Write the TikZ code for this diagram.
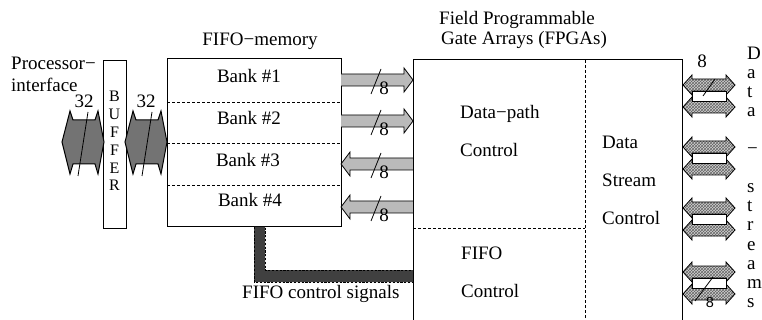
\documentclass[tikz,border=0pt]{standalone}
\usepackage{fontspec}
\setmainfont{Liberation Serif}
\newfontfamily\labelsans{Liberation Sans}
\usetikzlibrary{patterns}

% block arrow pointing right / left between the memory and the FPGA (centre y)
\newcommand\fatR[1]{\filldraw[busarrow] (341,#1-6) -- (404,#1-6) -- (404,#1-12) -- (413,#1) -- (404,#1+12) -- (404,#1+6) -- (341,#1+6);}
\newcommand\fatL[1]{\filldraw[busarrow] (413,#1-6) -- (350,#1-6) -- (350,#1-12) -- (341,#1) -- (350,#1+12) -- (350,#1+6) -- (413,#1+6);}
% bus width mark: slash plus "8"
\newcommand\widthmark[1]{\draw[line width=0.8pt] (371,#1+14) -- (381,#1-11);
  \node[txt, anchor=base] at (384,#1+15) {8};}
% one hatched double arrow of a data stream
\newcommand\hatchpair[1]{\filldraw[hatched] (683,#1) -- (692,#1-10) -- (692,#1-6) -- (726,#1-6) -- (726,#1-10) -- (735,#1) -- (726,#1+10) -- (726,#1+6) -- (692,#1+6) -- (692,#1+10) -- cycle;}
% a data stream port: two hatched arrows with a white bar between them
\newcommand\streamport[1]{\hatchpair{#1-11}\hatchpair{#1+11}
  \filldraw[fill=white, line width=0.8pt] (692,#1-5) rectangle (726,#1+5);}

\begin{document}
\begin{tikzpicture}[x=1pt, y=-1pt,
  txt/.style={font=\fontsize{19}{21}\selectfont, inner sep=0pt},
  vtxt/.style={font=\fontsize{16}{18}\selectfont, inner sep=0pt},
  box/.style={draw, line width=1pt},
  sep/.style={line width=0.9pt, dash pattern=on 3pt off 2pt},
  busarrow/.style={draw, line width=0.8pt, fill=black!27},
  hatched/.style={draw, line width=0.8pt, preaction={fill=black!18},
    pattern=crosshatch, pattern color=black!60},
  hexbus/.style={draw, line width=1pt, fill=black!55, line join=miter},
  ctrlpath/.style={fill=black!75, draw, line width=0.9pt, dash pattern=on 2.2pt off 1.6pt}]

\useasboundingbox (0,0) rectangle (762,320);
\clip (0,0) rectangle (762,320);

% ---------- processor interface and buffer ----------
\node[txt, anchor=base west] (procA) at (11,70) {Processor−};
\node[txt, anchor=base west] (procB) at (11,91.5) {interface};

\node[box, minimum width=23pt, minimum height=168pt, anchor=north west, inner sep=0pt] (buffer) at (103,60) {};
\foreach \ch [count=\i from 0] in {B,U,F,F,E,R}
  \node[vtxt, anchor=base] (buf\i) at (114.5,102+17.8*\i) {\ch};

% 32-bit double arrows on both sides of the buffer
\filldraw[hexbus] (62,142) -- (70,111) -- (73,120) -- (95,120) -- (98,111) -- (104,142)
  -- (98,174) -- (95,164) -- (73,164) -- (70,174) -- cycle;
\filldraw[hexbus] (125,142) -- (133,111) -- (136,120) -- (158,120) -- (161,111) -- (167,142)
  -- (161,174) -- (158,164) -- (136,164) -- (133,174) -- cycle;
\draw[line width=0.8pt] (78,176) -- (88,112);
\draw[line width=0.8pt] (142,176) -- (152,112);
\node[txt, anchor=base] (w32a) at (84,108) {32};
\node[txt, anchor=base] (w32b) at (146,108) {32};

% ---------- FIFO memory ----------
\node[txt, anchor=base] (fifotitle) at (260,46) {FIFO−memory};
\node[box, minimum width=174pt, minimum height=168pt, anchor=north west, inner sep=0pt] (fifo) at (167,58) {};
\draw[sep] (167,102) -- (341,102);
\draw[sep] (167,143) -- (341,143);
\draw[sep] (167,185) -- (341,185);
\node[txt, anchor=base] (bank1) at (249,83) {Bank \#1};
\node[txt, anchor=base] (bank2) at (249,125) {Bank \#2};
\node[txt, anchor=base] (bank3) at (248,167) {Bank \#3};
\node[txt, anchor=base] (bank4) at (250,207) {Bank \#4};

% 8-bit buses between memory banks and FPGA
\fatR{80}\fatR{121}\fatL{164}\fatL{207}
\widthmark{80}\widthmark{121}\widthmark{164}\widthmark{207}

% FIFO control signals
\filldraw[ctrlpath] (254,227) -- (254,282) -- (413,282) -- (413,270) -- (265,270) -- (265,227);
\node[txt, anchor=base west] (ctrl) at (242,298) {FIFO control signals};

% ---------- FPGA ----------
\node[txt, anchor=base west] (fpgaA) at (439,25) {Field Programmable};
\node[txt, anchor=base west] (fpgaB) at (441,45) {Gate Arrays (FPGAs)};
\coordinate (fpgaNW) at (413,60);
\coordinate (fpgaNE) at (682,60);
\draw[box] (413,322) -- (fpgaNW) -- (fpgaNE) -- (682,322);
\draw[sep] (585,60) -- (585,322);
\draw[sep] (413,228) -- (585,228);

\node[txt, anchor=base west] (dpA) at (460,119) {Data−path};
\node[txt, anchor=base west] (dpB) at (460,157) {Control};
\node[txt, anchor=base west] (fcA) at (461,259) {FIFO};
\node[txt, anchor=base west] (fcB) at (461,297) {Control};
\node[txt, anchor=base west] (dsA) at (602,149) {Data};
\node[txt, anchor=base west] (dsB) at (602,187) {Stream};
\node[txt, anchor=base west] (dsC) at (602,225) {Control};

% ---------- data stream ports ----------
\streamport{96}\streamport{158}\streamport{219}\streamport{283}
\draw[line width=0.8pt] (703,96) -- (715,79);
\node[txt, anchor=base] (w8top) at (702,68) {8};
\draw[line width=0.8pt] (695,301) -- (713,277);
\node[anchor=base, inner sep=0pt, font=\labelsans\fontsize{14.5}{16}\selectfont] (w8bot) at (710,307) {8};

\foreach \ch/\yb in {D/60, a/79, t/98, a/117, −/155, s/193, t/212, r/231, e/250, a/269, m/288, s/307}
  \node[txt, anchor=base west] at (747,\yb) {\ch};
\end{tikzpicture}
\end{document}
